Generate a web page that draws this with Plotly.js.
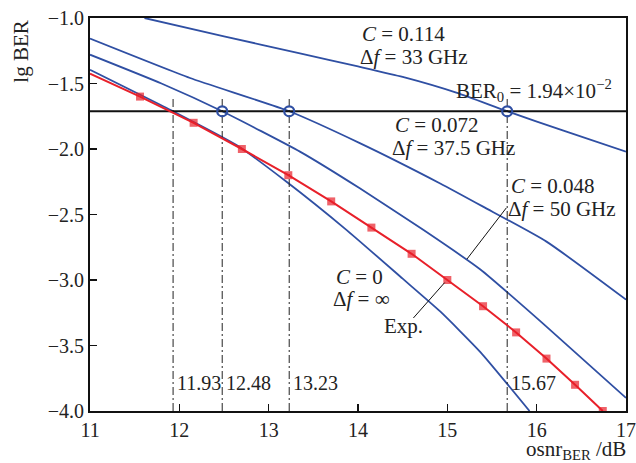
<!DOCTYPE html>
<html>
<head>
<meta charset="utf-8">
<script src="https://cdn.plot.ly/plotly-3.0.1.min.js"></script>
<style>html,body{margin:0;padding:0;background:#fff;}#chart{width:636px;height:463px;}</style>
</head>
<body>
<div id="chart"></div>
<script>
// ---- data ----
const osnrC0114 = [11.61, 12.5, 13.35, 14.0, 14.5, 15.1, 15.67, 16.3, 17.0];
const lgBerC0114 = [-1.0, -1.14, -1.27, -1.37, -1.45, -1.57, -1.712, -1.86, -2.02];

const osnrC0072 = [11.0, 12.12, 13.23, 14.02, 14.92, 15.4, 16.11, 17.0];
const lgBerC0072 = [-1.157, -1.458, -1.712, -1.955, -2.263, -2.44, -2.707, -3.15];

const osnrC0048 = [11.0, 11.8, 12.48, 13.35, 14.02, 14.73, 15.37, 16.1, 17.0];
const lgBerC0048 = [-1.28, -1.5, -1.712, -2.02, -2.30, -2.617, -2.92, -3.35, -3.90];

const osnrC0 = [11.0, 11.93, 12.64, 13.2, 13.87, 14.5, 14.92, 15.37, 15.92];
const lgBerC0 = [-1.395, -1.712, -1.97, -2.25, -2.617, -2.99, -3.24, -3.55, -4.0];

const osnrExp = [11.0, 11.56, 12.16, 12.7, 13.22, 13.7, 14.15, 14.6, 15.0, 15.4, 15.77, 16.11, 16.43, 16.74];
const lgBerExp = [-1.425, -1.6, -1.8, -2.0, -2.2, -2.4, -2.6, -2.8, -3.0, -3.2, -3.4, -3.6, -3.8, -4.0];
const expMarkerShown = [false, true, true, true, true, true, true, true, true, true, true, true, true, true];

const BER0 = 0.0194;
const thresholds = [11.93, 12.48, 13.23, 15.67];
const thresholdCircles = [12.48, 13.23, 15.67];

const xTicks = [11, 12, 13, 14, 15, 16, 17];
const yTicks = [-1.0, -1.5, -2.0, -2.5, -3.0, -3.5, -4.0];

// ---- styles ----
const BLUE = '#2f4fa3';
const RED = '#e8202a';
const FONT = 'Liberation Serif, Times New Roman, serif';
const lgBER0 = Math.log10(BER0);

const traces = [];
[[osnrC0114, lgBerC0114], [osnrC0072, lgBerC0072], [osnrC0048, lgBerC0048], [osnrC0, lgBerC0]].forEach(([x, y]) => {
  traces.push({x: x, y: y, mode: 'lines', line: {color: BLUE, width: 1.8, shape: 'spline', smoothing: 0.5}, hoverinfo: 'skip'});
});

// vertical dash-dot lines
const vx = [], vy = [];
thresholds.forEach(t => { vx.push(t, t, null); vy.push(-4.0, -1.6, null); });
traces.push({x: vx, y: vy, mode: 'lines', line: {color: '#222', width: 1, dash: '8px,3px,2px,3px'}, hoverinfo: 'skip'});

// BER0 line
traces.push({x: [11, 17], y: [lgBER0, lgBER0], mode: 'lines', line: {color: '#111', width: 2}, hoverinfo: 'skip'});

// experimental
traces.push({x: osnrExp, y: lgBerExp, mode: 'lines+markers', line: {color: RED, width: 2},
  marker: {symbol: 'square', color: RED, size: expMarkerShown.map(s => s ? 8 : 0), line: {width: 0}}, hoverinfo: 'skip'});

// crossing circles
traces.push({x: thresholdCircles, y: thresholdCircles.map(() => lgBER0), mode: 'markers',
  marker: {symbol: 'circle-open', color: BLUE, size: 10, line: {width: 2.2, color: BLUE}}, hoverinfo: 'skip'});

const ann = (x, y, text, size) => ({x: x, y: y, xref: 'x', yref: 'y', text: text, showarrow: false,
  xanchor: 'left', yanchor: 'middle', font: {family: FONT, size: size || 21, color: '#222'}});

const annotations = [
  ann(14.02, -1.122, '<i>C</i> = 0.114'),
  ann(14.0, -1.295, 'Δ<i>f</i> = 33 GHz'),
  ann(15.07, -1.555, 'BER<sub>0</sub> = 1.94×10<sup>−2</sup>'),
  ann(14.39, -1.82, '<i>C</i> = 0.072'),
  ann(14.36, -1.995, 'Δ<i>f</i> = 37.5 GHz'),
  ann(15.69, -2.285, '<i>C</i> = 0.048'),
  ann(15.66, -2.46, 'Δ<i>f</i> = 50 GHz'),
  ann(13.73, -2.975, '<i>C</i> = 0'),
  ann(13.70, -3.145, 'Δ<i>f</i> = ∞'),
  ann(14.27, -3.35, 'Exp.'),
];
thresholds.forEach(t => annotations.push(ann(t + 0.02, -3.785, t.toFixed(2), 20)));

// axis titles
annotations.push({x: -0.129, y: 0.914, xref: 'paper', yref: 'paper', text: 'lg BER', textangle: -90,
  showarrow: false, xanchor: 'center', yanchor: 'middle', font: {family: FONT, size: 21, color: '#222'}});
annotations.push({x: 1.003, y: -0.1, xref: 'paper', yref: 'paper', text: 'osnr<sub>BER</sub> /dB',
  showarrow: false, xanchor: 'right', yanchor: 'middle', font: {family: FONT, size: 21, color: '#222'}});

// leader lines
const shapes = [
  {type: 'line', xref: 'x', yref: 'y', x0: 15.66, y0: -2.45, x1: 15.22, y1: -2.84, line: {color: '#111', width: 1}},
  {type: 'line', xref: 'x', yref: 'y', x0: 14.62, y0: -3.29, x1: 14.97, y1: -3.02, line: {color: '#111', width: 1}}
];

const axisCommon = {showgrid: false, zeroline: false, showline: true, linecolor: '#111', linewidth: 2,
  mirror: true, ticks: 'inside', ticklen: 7, tickwidth: 1.5, tickcolor: '#111',
  tickfont: {family: FONT, size: 20, color: '#222'}};

const layout = {
  width: 636, height: 463,
  margin: {l: 90, r: 10, t: 18, b: 52},
  paper_bgcolor: '#fff', plot_bgcolor: '#fff',
  showlegend: false,
  xaxis: Object.assign({}, axisCommon, {range: [11, 17], tickvals: xTicks, ticktext: xTicks.map(String), ticklabeloverflow: 'allow'}),
  yaxis: Object.assign({}, axisCommon, {range: [-4.0, -1.0], tickvals: yTicks, tickformat: '.1f'}),
  annotations: annotations,
  shapes: shapes
};

Plotly.newPlot('chart', traces, layout, {staticPlot: true, displayModeBar: false});
</script>
</body>
</html>
